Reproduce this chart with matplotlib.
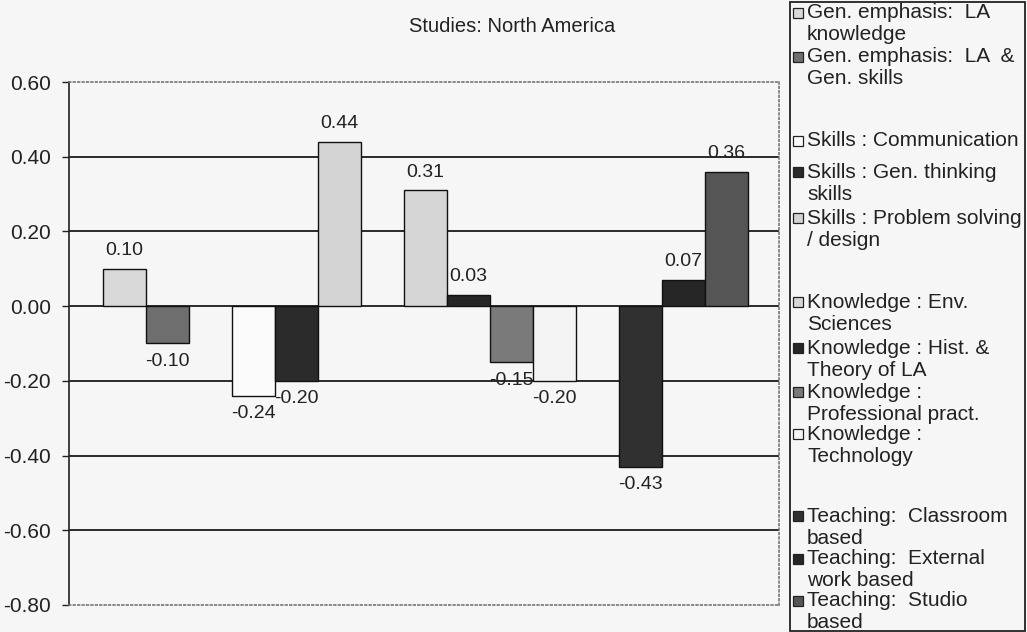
import numpy as np
import matplotlib.pyplot as plt
from matplotlib.patches import Rectangle

plt.rcParams['font.family'] = ['Liberation Sans', 'DejaVu Sans']

# series, in the order of the legend; bar groups are split by one empty slot
labels = ['Gen. emphasis:  LA\nknowledge',
          'Gen. emphasis:  LA  &\nGen. skills',
          'Skills : Communication',
          'Skills : Gen. thinking\nskills',
          'Skills : Problem solving\n/ design',
          'Knowledge : Env.\nSciences',
          'Knowledge : Hist. &\nTheory of LA',
          'Knowledge :\nProfessional pract.',
          'Knowledge :\nTechnology',
          'Teaching:  Classroom\nbased',
          'Teaching:  External\nwork based',
          'Teaching:  Studio\nbased']
values = [0.10, -0.10, -0.24, -0.20, 0.44, 0.31, 0.03, -0.15, -0.20, -0.43, 0.07, 0.36]
group_sizes = [2, 3, 4, 3]
colors = ['#d9d9d9', '#6e6e6e', '#fbfbfb', '#2b2b2b', '#d4d4d4', '#d6d6d6',
          '#262626', '#7a7a7a', '#f4f4f4', '#303030', '#262626', '#555555']

bg = '#f6f6f6'
W, H = 1027, 632
fig = plt.figure(figsize=(W / 100, H / 100), dpi=100, facecolor=bg)
ax = fig.add_axes([69 / W, 1 - 605 / H, (779 - 69) / W, (605 - 82) / H], facecolor=bg)

# bar slots: one empty slot between groups
x = []
pos = 0
for g in group_sizes:
    x.extend(range(pos, pos + g))
    pos += g + 1
x = np.array(x)

ax.set_ylim(-0.8, 0.6)
ax.set_xlim(-1.29, 15.22)
yt = np.round(np.arange(-0.8, 0.61, 0.2), 2) + 0.0
ax.set_yticks(yt)
ax.set_yticklabels(['%.2f' % (v if abs(v) > 1e-9 else 0.0) for v in yt])
ax.set_xticks([])
for v in yt[1:-1]:
    ax.axhline(v, color='#1a1a1a', lw=1.3, zorder=1)

ax.bar(x, values, width=1.0, color=colors, edgecolor='#111111', linewidth=1.0, zorder=3)

for xi, v in zip(x, values):
    off = 13 if v >= 0 else -13
    ax.annotate('%.2f' % v, (xi, v), xytext=(0, off), textcoords='offset points',
                ha='center', va='center', fontsize=14, color='#222222', zorder=4)

ax.tick_params(axis='y', labelsize=15, length=5, width=1.0, pad=8, colors='#222222')
ax.spines['left'].set_color('#222222')
ax.spines['left'].set_linewidth(1.2)
for s in ['top', 'bottom', 'right']:
    ax.spines[s].set_linestyle(':')
    ax.spines[s].set_color('#777777')
    ax.spines[s].set_linewidth(1.2)

fig.text(512 / W, 1 - 27 / H, 'Studies: North America', ha='center', va='center',
         fontsize=14.5, color='#222222')

# legend box drawn by hand so the blank gaps match
fig.patches.append(Rectangle((790 / W, 1 / H), 235 / W, 629 / H, transform=fig.transFigure,
                             facecolor=bg, edgecolor='#222222', lw=1.3))
entry_y = [13, 57, 141, 172, 218, 302, 348, 392, 434, 516, 559, 601]
for lab, c, y0 in zip(labels, colors, entry_y):
    fig.patches.append(Rectangle((793 / W, 1 - (y0 + 5) / H), 10 / W, 10 / H,
                                 transform=fig.transFigure, facecolor=c,
                                 edgecolor='#222222', lw=0.9))
    for i, line in enumerate(lab.split('\n')):
        fig.text(807 / W, 1 - (y0 + i * 22) / H, line, ha='left', va='center',
                 fontsize=15, color='#222222')

fig.savefig('out.png', dpi=100, facecolor=bg)
